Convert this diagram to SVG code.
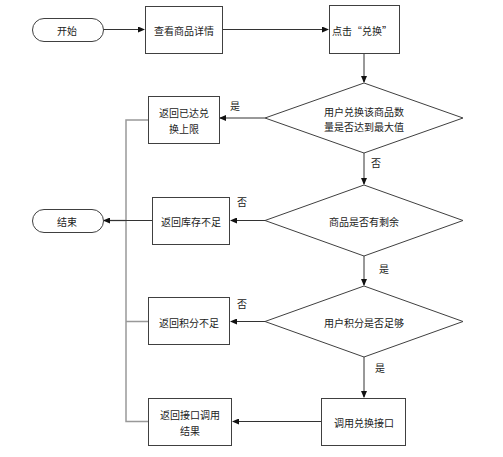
<svg xmlns="http://www.w3.org/2000/svg" width="503" height="457" viewBox="0 0 503 457">
<style>
.n{fill:#fff;stroke:#404040;stroke-width:1}
.t{font-family:"Noto Sans CJK SC","Liberation Sans",sans-serif;font-size:10px;fill:#222;text-anchor:middle;dominant-baseline:central}
.e{fill:none;stroke:#333;stroke-width:1}
.g{fill:none;stroke:#999;stroke-width:1.5}
</style>
<defs>
<marker id="a" markerWidth="7" markerHeight="6" refX="6" refY="3" orient="auto" markerUnits="userSpaceOnUse">
<path d="M0,0L7,3L0,6z" fill="#111"/>
</marker>
</defs>
<rect width="503" height="457" fill="#fff"/>
<g id="connectors">
<path class="g" d="M148,120H126V421.5H148M126,321.5H148M126,220.5H104"/>
<path class="e" d="M103,29.5H144" marker-end="url(#a)"/>
<path class="e" d="M222,29.5H328" marker-end="url(#a)"/>
<path class="e" d="M364,53V82" marker-end="url(#a)"/>
<path class="e" d="M265,118H220" marker-end="url(#a)"/>
<path class="e" d="M364,153V184" marker-end="url(#a)"/>
<path class="e" d="M265,220.5H231" marker-end="url(#a)"/>
<path class="e" d="M152,220.5H104" marker-end="url(#a)"/>
<path class="e" d="M364,256V285" marker-end="url(#a)"/>
<path class="e" d="M265,321.5H231" marker-end="url(#a)"/>
<path class="e" d="M364,357V397" marker-end="url(#a)"/>
<path class="e" d="M321,421.5H233" marker-end="url(#a)"/>
<text class="t" x="235" y="105">是</text>
<text class="t" x="376" y="162">否</text>
<text class="t" x="242" y="201">否</text>
<text class="t" x="384" y="268">是</text>
<text class="t" x="242" y="303">否</text>
<text class="t" x="380" y="367">是</text>
</g>
<g id="start"><rect class="n" x="32.5" y="18.5" width="71" height="23" rx="11.5"/><text class="t" x="67" y="30">开始</text></g>
<g id="view"><rect class="n" x="145.5" y="6.5" width="77" height="47"/><text class="t" x="184" y="30">查看商品详情</text></g>
<g id="click"><rect class="n" x="329.5" y="5.5" width="70" height="48"/><text class="t" x="362" y="30">点击“兑换”</text></g>
<g id="d1"><path class="n" d="M364,83L463,118L364,153L265,118z"/><text class="t" x="364" y="111">用户兑换该商品数</text><text class="t" x="364" y="126.5">量是否达到最大值</text></g>
<g id="limit"><rect class="n" x="148.5" y="96.5" width="71" height="47"/><text class="t" x="184" y="112.5">返回已达兑</text><text class="t" x="184" y="128">换上限</text></g>
<g id="d2"><path class="n" d="M364,185L463,220.5L364,256L265,220.5z"/><text class="t" x="364" y="221">商品是否有剩余</text></g>
<g id="stock"><rect class="n" x="152.5" y="197.5" width="77" height="47"/><text class="t" x="191" y="221">返回库存不足</text></g>
<g id="end"><rect class="n" x="32.5" y="209.5" width="71" height="23" rx="11.5"/><text class="t" x="67" y="221">结束</text></g>
<g id="d3"><path class="n" d="M364,286L463,321.5L364,357L265,321.5z"/><text class="t" x="364" y="322">用户积分是否足够</text></g>
<g id="points"><rect class="n" x="148.5" y="297.5" width="81" height="47"/><text class="t" x="189" y="322">返回积分不足</text></g>
<g id="call"><rect class="n" x="321.5" y="398.5" width="84" height="47"/><text class="t" x="364" y="422">调用兑换接口</text></g>
<g id="result"><rect class="n" x="148.5" y="398.5" width="83" height="47"/><text class="t" x="190" y="414.5">返回接口调用</text><text class="t" x="190" y="430">结果</text></g>
</svg>
